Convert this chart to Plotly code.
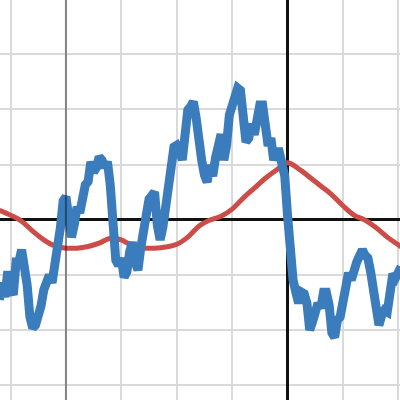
import plotly.graph_objects as go

# Blue series (noisy curve), sampled every 0.05 units
blue_x = [round(-5.20 + 0.05 * i, 2) for i in range(146)]
blue_y = [
    -1.46, -1.15, -1.41, -0.94, -1.25, -1.37, -0.77, -0.77, -0.55, -0.83,
    -1.19, -1.77, -1.97, -1.92, -1.79, -1.57, -1.28, -1.06, -1.01, -1.15,
    -0.65, -0.48, -0.15, 0.34, 0.41, 0.14, -0.32, -0.10, 0.23, 0.12,
    0.39, 0.63, 0.69, 1.05, 0.86, 0.94, 1.14, 1.08, 0.95, 1.05,
    0.63, -0.37, -0.74, -0.83, -0.70, -1.05, -0.95, -0.59, -0.41, -0.77,
    -0.92, -0.52, -0.03, 0.08, 0.37, 0.46, 0.50, -0.10, -0.37, -0.14,
    0.17, 0.50, 0.99, 1.32, 1.35, 1.26, 1.08, 1.77, 1.99, 2.05,
    2.14, 1.85, 1.35, 1.08, 0.81, 0.68, 0.99, 0.79, 1.12, 1.41,
    1.55, 1.08, 1.35, 1.90, 2.05, 2.17, 2.39, 2.35, 1.81, 1.41,
    1.48, 1.74, 1.54, 1.81, 2.08, 2.08, 1.63, 1.34, 1.48, 1.08,
    1.23, 1.23, 1.01, 0.79, 0.08, -0.88, -1.10, -1.32, -1.52, -1.32,
    -1.35, -1.52, -2.01, -1.86, -1.65, -1.52, -1.61, -1.32, -1.32, -1.55,
    -2.06, -2.14, -1.83, -1.77, -1.50, -1.28, -0.97, -1.10, -0.83, -0.77,
    -0.66, -0.55, -0.65, -0.70, -0.95, -1.28, -1.70, -1.92, -1.74, -1.65,
    -1.68, -1.23, -0.99, -1.06, -0.95, -0.86,
]

# Red series (smooth curve), sampled every 0.2 units
red_x = [-5.2, -5.0, -4.8, -4.6, -4.4, -4.2, -4.0, -3.8, -3.6, -3.4,
         -3.2, -3.0, -2.8, -2.6, -2.4, -2.2, -2.0, -1.8, -1.6, -1.4,
         -1.2, -1.0, -0.8, -0.6, -0.4, -0.2, 0.0, 0.2, 0.4, 0.6,
         0.8, 1.0, 1.2, 1.4, 1.6, 1.8, 2.0, 2.05]
red_y = [0.17, 0.08, -0.03, -0.21, -0.37, -0.48, -0.52, -0.52, -0.49, -0.43,
         -0.34, -0.37, -0.48, -0.52, -0.52, -0.50, -0.45, -0.32, -0.12, -0.01,
         0.06, 0.19, 0.39, 0.57, 0.75, 0.90, 1.03, 0.92, 0.77, 0.61,
         0.45, 0.25, 0.08, -0.01, -0.15, -0.32, -0.46, -0.50]

marker_x = -4

fig = go.Figure()
fig.add_trace(go.Scatter(x=red_x, y=red_y, mode="lines",
                         line=dict(color="#cc4c47", width=5, shape="spline"),
                         hoverinfo="skip", showlegend=False))
fig.add_trace(go.Scatter(x=blue_x, y=blue_y, mode="lines",
                         line=dict(color="#3b7cbd", width=9),
                         hoverinfo="skip", showlegend=False))

fig.add_vline(x=marker_x, line=dict(color="rgba(0,0,0,0.4)", width=2), layer="above")

fig.update_layout(
    width=400, height=400,
    margin=dict(l=0, r=0, t=0, b=0, pad=0),
    paper_bgcolor="white", plot_bgcolor="white",
    showlegend=False,
)
fig.update_xaxes(range=[-5.19, 2.03], dtick=1, tick0=0, showticklabels=False,
                 showgrid=True, gridcolor="#dadada", gridwidth=2,
                 zeroline=True, zerolinecolor="#111111", zerolinewidth=3,
                 showline=False, ticks="")
fig.update_yaxes(range=[-3.28, 3.99], dtick=1, tick0=0, showticklabels=False,
                 showgrid=True, gridcolor="#dadada", gridwidth=2,
                 zeroline=True, zerolinecolor="#111111", zerolinewidth=3,
                 showline=False, ticks="")

fig.write_html("out.html", config={"displayModeBar": False},
               post_script="document.body.style.margin='0';document.body.style.overflow='hidden';")
